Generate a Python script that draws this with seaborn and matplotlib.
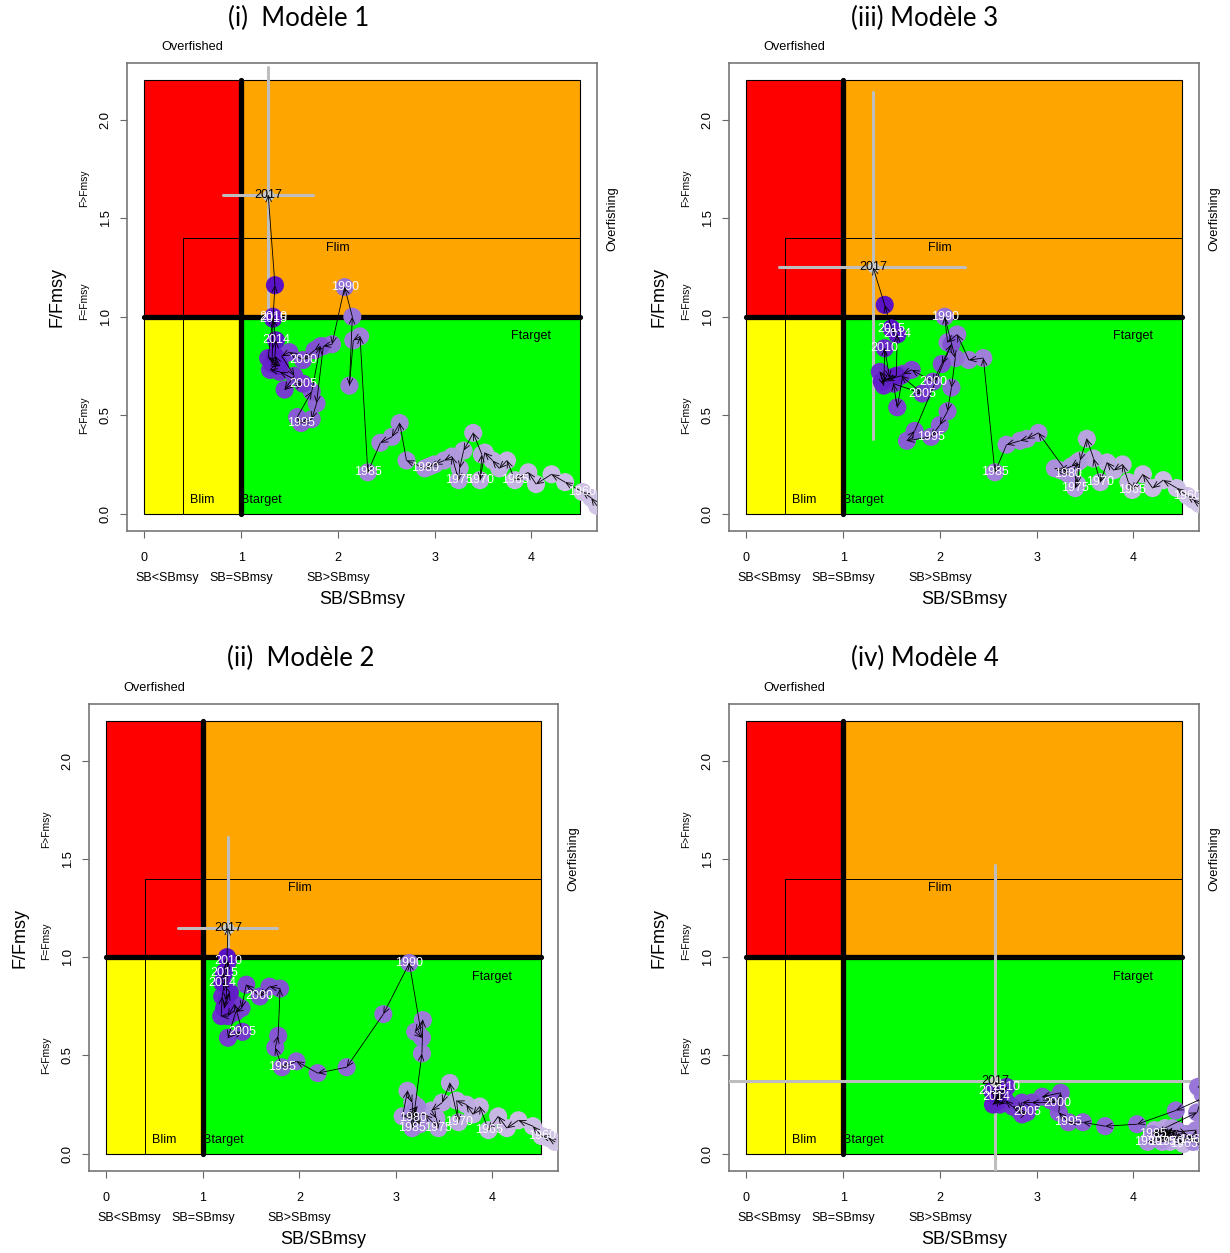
import numpy as np
import matplotlib
matplotlib.use("Agg")
import matplotlib.pyplot as plt
import seaborn as sns
from matplotlib.colors import LinearSegmentedColormap
from matplotlib.patches import FancyArrowPatch

# years of the trajectories (same for the 4 models)
years = list(range(1958, 2018))
label_years = [1960, 1965, 1970, 1975, 1980, 1985, 1990, 1995, 2000, 2005, 2010, 2014, 2015]

# Model 1 : SB/SBmsy and F/Fmsy, 1958 -> 2017
m1_sb = [4.68, 4.62, 4.53, 4.35, 4.21, 4.05, 3.97, 3.83, 3.75, 3.67,
         3.60, 3.52, 3.47, 3.49, 3.40, 3.30, 3.26, 3.25, 3.18, 3.10,
         3.00, 2.95, 2.90, 2.71, 2.64, 2.56, 2.44, 2.31, 2.23, 2.16,
         2.12, 2.15, 2.07, 1.94, 1.85, 1.78, 1.73, 1.62, 1.58, 1.73,
         1.82, 1.76, 1.64, 1.50, 1.42, 1.55, 1.45, 1.64, 1.40, 1.30,
         1.38, 1.28, 1.33, 1.32, 1.40, 1.35, 1.36, 1.33, 1.35, 1.28]
m1_f = [0.04, 0.08, 0.11, 0.16, 0.20, 0.15, 0.21, 0.17, 0.27, 0.23,
        0.27, 0.31, 0.17, 0.30, 0.41, 0.32, 0.23, 0.17, 0.29, 0.27,
        0.25, 0.24, 0.23, 0.27, 0.46, 0.39, 0.36, 0.21, 0.90, 0.88,
        0.65, 1.00, 1.15, 0.86, 0.85, 0.56, 0.48, 0.46, 0.49, 0.62,
        0.85, 0.83, 0.78, 0.82, 0.80, 0.70, 0.63, 0.66, 0.72, 0.73,
        0.77, 0.79, 1.00, 0.76, 0.75, 0.80, 0.88, 0.99, 1.16, 1.62]
m1_ci_sb = [0.81, 1.74]
m1_ci_f = [0.99, 2.27]

# Model 2
m2_sb = [4.65, 4.58, 4.51, 4.42, 4.27, 4.15, 4.06, 3.96, 3.87, 3.80,
         3.73, 3.63, 3.65, 3.56, 3.48, 3.37, 3.42, 3.44, 3.30, 3.07,
         3.12, 3.17, 3.18, 3.20, 3.25, 3.14, 3.22, 3.17, 3.27, 3.28,
         3.20, 3.27, 3.14, 2.87, 2.49, 2.19, 1.97, 1.82, 1.75, 1.78,
         1.80, 1.69, 1.59, 1.45, 1.40, 1.34, 1.26, 1.41, 1.33, 1.26,
         1.19, 1.20, 1.26, 1.24, 1.22, 1.28, 1.20, 1.22, 1.25, 1.26]
m2_f = [0.06, 0.08, 0.09, 0.14, 0.17, 0.13, 0.19, 0.12, 0.24, 0.20,
        0.25, 0.27, 0.16, 0.36, 0.26, 0.22, 0.18, 0.13, 0.20, 0.19,
        0.32, 0.26, 0.18, 0.22, 0.15, 0.20, 0.24, 0.13, 0.51, 0.68,
        0.62, 0.59, 0.97, 0.71, 0.44, 0.41, 0.47, 0.44, 0.54, 0.60,
        0.84, 0.85, 0.80, 0.86, 0.74, 0.72, 0.59, 0.62, 0.76, 0.70,
        0.70, 0.80, 0.98, 0.78, 0.74, 0.82, 0.87, 0.92, 1.00, 1.15]
m2_ci_sb = [0.74, 1.77]
m2_ci_f = [0.70, 1.61]

# Model 3
m3_sb = [4.68, 4.62, 4.56, 4.45, 4.31, 4.20, 4.10, 3.99, 3.95, 3.89,
         3.80, 3.73, 3.66, 3.59, 3.52, 3.45, 3.42, 3.40, 3.42, 3.36,
         3.25, 3.19, 3.33, 3.02, 2.90, 2.83, 2.69, 2.57, 2.45, 2.30,
         2.18, 2.08, 2.05, 2.16, 2.12, 2.08, 2.00, 1.91, 1.66, 1.74,
         2.12, 2.02, 1.93, 1.71, 1.62, 1.56, 1.52, 1.82, 1.60, 1.45,
         1.38, 1.42, 1.43, 1.48, 1.40, 1.55, 1.56, 1.50, 1.43, 1.31]
m3_f = [0.05, 0.07, 0.09, 0.13, 0.17, 0.13, 0.20, 0.12, 0.16, 0.25,
        0.22, 0.26, 0.16, 0.28, 0.38, 0.27, 0.15, 0.13, 0.26, 0.24,
        0.22, 0.23, 0.20, 0.41, 0.38, 0.37, 0.35, 0.21, 0.79, 0.78,
        0.91, 0.87, 1.00, 0.79, 0.64, 0.52, 0.45, 0.39, 0.37, 0.42,
        0.86, 0.76, 0.67, 0.73, 0.71, 0.54, 0.66, 0.61, 0.70, 0.68,
        0.72, 0.65, 0.84, 0.69, 0.67, 0.70, 0.91, 0.94, 1.06, 1.25]
m3_ci_sb = [0.34, 2.26]
m3_ci_f = [0.38, 2.14]

# Model 4
m4_sb = [4.72, 4.68, 4.62, 4.57, 4.52, 4.47, 4.43, 4.52, 4.40, 4.35,
         4.30, 4.26, 4.38, 4.33, 4.28, 4.22, 4.25, 4.30, 4.35, 4.40,
         4.33, 4.28, 4.15, 4.45, 4.55, 4.62, 4.65, 4.20, 4.66, 4.72,
         4.75, 4.67, 4.80, 4.44, 4.04, 3.71, 3.48, 3.33, 3.23, 3.25,
         3.06, 3.15, 3.21, 2.95, 2.85, 2.82, 2.85, 2.90, 2.75, 2.68,
         2.62, 2.58, 2.69, 2.60, 2.55, 2.62, 2.58, 2.54, 2.62, 2.57]
m4_f = [0.08, 0.06, 0.07, 0.09, 0.06, 0.10, 0.07, 0.05, 0.11, 0.08,
        0.12, 0.09, 0.06, 0.13, 0.10, 0.12, 0.08, 0.06, 0.10, 0.13,
        0.09, 0.07, 0.06, 0.12, 0.10, 0.06, 0.12, 0.10, 0.21, 0.30,
        0.36, 0.34, 0.30, 0.22, 0.15, 0.14, 0.16, 0.16, 0.21, 0.31,
        0.29, 0.27, 0.26, 0.26, 0.26, 0.22, 0.20, 0.21, 0.24, 0.27,
        0.25, 0.28, 0.34, 0.27, 0.25, 0.30, 0.29, 0.32, 0.31, 0.37]
m4_ci_sb = [-0.5, 5.2]
m4_ci_f = [-0.3, 1.47]

panel_titles = ["(i)  Modèle 1", "(ii)  Modèle 2", "(iii) Modèle 3", "(iv) Modèle 4"]

sns.set_theme(style="white")
plt.rcParams["font.family"] = ["Liberation Sans", "DejaVu Sans"]

traj_cmap = LinearSegmentedColormap.from_list("traj", ["#D2C6E6", "#9C7DD8", "#5A12C4"])

W, H = 1230, 1253
fig = plt.figure(figsize=(W / 100, H / 100), dpi=100)


def add_panel(box):
    l, t, r, b = box
    return fig.add_axes([l / W, 1 - b / H, (r - l) / W, (b - t) / H])


def kobe(ax, sb, f, ci_sb, ci_f):
    # coloured zones
    ax.fill_between([0, 1], 1, 2.2, color="#FF0000", ec="black", lw=0.8, zorder=1)
    ax.fill_between([1, 4.5], 1, 2.2, color="#FFA500", ec="black", lw=0.8, zorder=1)
    ax.fill_between([0, 1], 0, 1, color="#FFFF00", ec="black", lw=0.8, zorder=1)
    ax.fill_between([1, 4.5], 0, 1, color="#00FF00", ec="black", lw=0.8, zorder=1)
    ax.plot([0.4, 0.4], [0, 1.4], color="black", lw=0.7, zorder=2)
    ax.plot([0.4, 4.5], [1.4, 1.4], color="black", lw=0.7, zorder=2)
    ax.plot([1, 1], [0, 2.2], color="black", lw=3.8, solid_capstyle="round", zorder=2)
    ax.plot([0, 4.5], [1, 1], color="black", lw=3.8, solid_capstyle="round", zorder=2)

    ax.text(0.6, 0.07, "Blim", ha="center", va="center", fontsize=9, color="black", zorder=3)
    ax.text(1.21, 0.07, "Btarget", ha="center", va="center", fontsize=9, color="black", zorder=3)
    ax.text(2.0, 1.35, "Flim", ha="center", va="center", fontsize=9, color="black", zorder=3)
    ax.text(4.0, 0.9, "Ftarget", ha="center", va="center", fontsize=9, color="black", zorder=3)

    # 2017 uncertainty cross
    ax.plot(ci_sb, [f[-1], f[-1]], color="#BEBEBE", lw=2.2, zorder=3)
    ax.plot([sb[-1], sb[-1]], ci_f, color="#BEBEBE", lw=2.2, zorder=3)

    sns.scatterplot(x=sb[:-1], y=f[:-1], hue=years[:-1], palette=traj_cmap,
                    hue_norm=(years[0], years[-2]), s=170, linewidth=0,
                    legend=False, ax=ax, zorder=4)
    ax.scatter([sb[-1]], [f[-1]], s=70, color="#C8C8C8", lw=0, zorder=4)

    # arrows between successive years, clipped to the plot region
    for i in range(len(sb) - 1):
        arr = FancyArrowPatch((sb[i], f[i]), (sb[i + 1], f[i + 1]),
                              arrowstyle="->,head_length=0.5,head_width=0.22",
                              color="black", lw=0.6, shrinkA=0, shrinkB=0,
                              mutation_scale=9, zorder=5)
        ax.add_patch(arr)

    for yr, x, y in zip(years, sb, f):
        if yr in label_years:
            ax.text(x, y, str(yr), color="white", fontsize=9, ha="center",
                    va="center", zorder=6, clip_on=True)
    ax.text(sb[-1], f[-1], "2017", color="black", fontsize=9, ha="center",
            va="center", zorder=6)

    # axes dressing
    ax.set_xlim(-0.18, 4.68)
    ax.set_ylim(-0.088, 2.288)
    ax.set_xticks([0, 1, 2, 3, 4])
    ax.set_xticklabels(["0", "1", "2", "3", "4"], fontsize=9, color="black")
    ax.set_yticks([0, 0.5, 1.0, 1.5, 2.0])
    ax.set_yticklabels(["0.0", "0.5", "1.0", "1.5", "2.0"], fontsize=9.4,
                       rotation=90, va="center", color="black")
    ax.tick_params(axis="both", direction="out", length=5, width=0.8,
                   color="#666666", left=True, bottom=True)
    ax.tick_params(axis="x", pad=10)
    ax.tick_params(axis="y", pad=6)
    ax.set_xlabel("")
    ax.set_ylabel("")
    for sp in ax.spines.values():
        sp.set_color("#777777")
        sp.set_linewidth(1.2)

    ax.text(0.5, 2.37, "Overfished", fontsize=9.2, ha="center", va="center", color="black", clip_on=False)
    ax.text(4.835, 1.5, "Overfishing", fontsize=9.2, rotation=90, ha="center",
            va="center", color="black", clip_on=False)
    ax.text(-0.90, 1.10, "F/Fmsy", fontsize=13, rotation=90, ha="center",
            va="center", color="black", clip_on=False)
    ax.text(-0.62, 0.5, "F<Fmsy", fontsize=7.4, rotation=90, ha="center", va="center", color="black", clip_on=False)
    ax.text(-0.62, 1.08, "F=Fmsy", fontsize=7.4, rotation=90, ha="center", va="center", color="black", clip_on=False)
    ax.text(-0.62, 1.65, "F>Fmsy", fontsize=7.4, rotation=90, ha="center", va="center", color="black", clip_on=False)
    ax.text(0.24, -0.325, "SB<SBmsy", fontsize=9, ha="center", va="center", color="black", clip_on=False)
    ax.text(1.0, -0.325, "SB=SBmsy", fontsize=9, ha="center", va="center", color="black", clip_on=False)
    ax.text(2.0, -0.325, "SB>SBmsy", fontsize=9, ha="center", va="center", color="black", clip_on=False)
    ax.text(2.25, -0.437, "SB/SBmsy", fontsize=13, ha="center", va="center", color="black", clip_on=False)


ax1 = add_panel((127, 63, 597, 531))
ax3 = add_panel((729, 63, 1199, 531))
ax2 = add_panel((89, 704, 558, 1171))
ax4 = add_panel((729, 704, 1199, 1171))

kobe(ax1, m1_sb, m1_f, m1_ci_sb, m1_ci_f)
kobe(ax2, m2_sb, m2_f, m2_ci_sb, m2_ci_f)
kobe(ax3, m3_sb, m3_f, m3_ci_sb, m3_ci_f)
kobe(ax4, m4_sb, m4_f, m4_ci_sb, m4_ci_f)

title_font = ["Lato", "DejaVu Sans"]
fig.text(299 / W, 1 - 18 / H, panel_titles[0], fontsize=18.5, family=title_font, ha="center", va="center", color="black")
fig.text(301 / W, 1 - 658 / H, panel_titles[1], fontsize=18.5, family=title_font, ha="center", va="center", color="black")
fig.text(925 / W, 1 - 18 / H, panel_titles[2], fontsize=18.5, family=title_font, ha="center", va="center", color="black")
fig.text(925 / W, 1 - 658 / H, panel_titles[3], fontsize=18.5, family=title_font, ha="center", va="center", color="black")

fig.savefig("out.png", dpi=100)
